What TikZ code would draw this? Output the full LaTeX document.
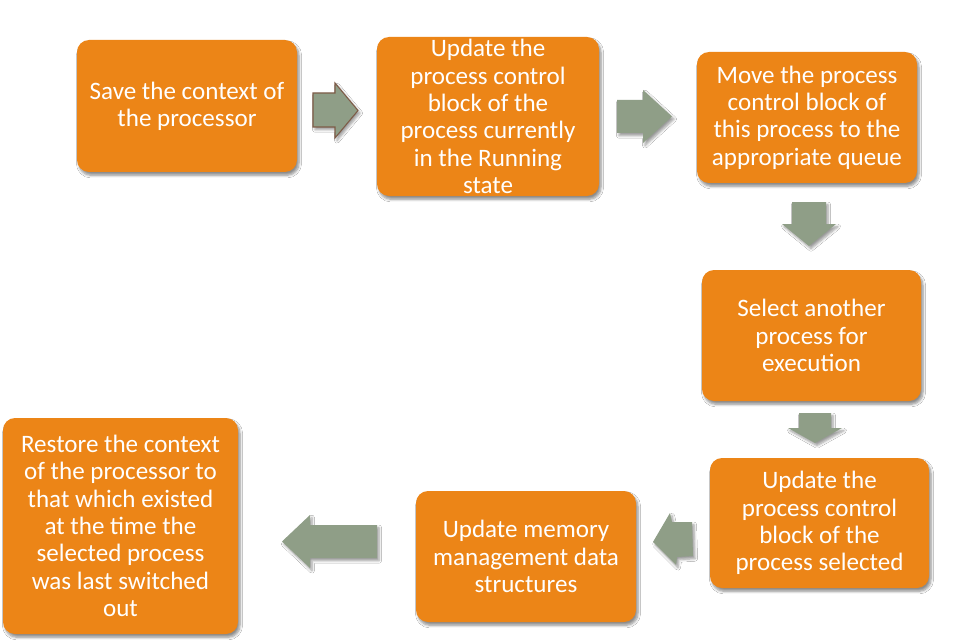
\documentclass[tikz,border=0pt]{standalone}
\usepackage{fontspec}
\setmainfont{Carlito}
\usetikzlibrary{shadows.blur}
\definecolor{boxorange}{HTML}{EC8517}
\definecolor{arrowgreen}{HTML}{8F9E87}
\definecolor{arrowedge}{HTML}{7E5C48}
\tikzset{
  stepbox/.style={fill=boxorange, draw=none, rounded corners=9pt, inner sep=0pt,
    align=center, text=white, font=\fontsize{18.8}{20.5}\selectfont,
    blur shadow={shadow xshift=1.5pt, shadow yshift=-2.5pt, shadow blur steps=6, shadow opacity=45}},
  blockarrow/.style={fill=arrowgreen, draw=none,
    blur shadow={shadow xshift=1.5pt, shadow yshift=-2pt, shadow blur steps=5, shadow opacity=40}},
}
\begin{document}
\begin{tikzpicture}[x=0.75pt, y=-0.75pt]
\useasboundingbox (0,0) rectangle (958,642);
\fill[white] (0,0) rectangle (958,642);

\node[stepbox, minimum width=165pt, minimum height=99pt] (save) at (187,106)
  {Save the context of\\the processor};
\node[stepbox, minimum width=166.5pt, minimum height=119.25pt] (updrun) at (488,116.5)
  {Update the\\process control\\block of the\\process currently\\in the Running\\state};
\node[stepbox, minimum width=165pt, minimum height=98.25pt] (move) at (807,117.5)
  {Move the process\\control block of\\this process to the\\appropriate queue};
\node[stepbox, minimum width=164.25pt, minimum height=98.25pt] (select) at (811.5,335.5)
  {Select another\\process for\\execution};
\node[stepbox, minimum width=164.25pt, minimum height=97.5pt] (updsel) at (819.5,523)
  {Update the\\process control\\block of the\\process selected};
\node[stepbox, minimum width=165pt, minimum height=98.25pt] (mem) at (526,556.5)
  {Update memory\\management data\\structures};
\node[stepbox, minimum width=176.25pt, minimum height=162pt] (restore) at (120.5,526)
  {Restore the context\\of the processor to\\that which existed\\at the time the\\selected process\\was last switched\\out};

% block arrows
\filldraw[blockarrow, draw=arrowedge, line width=0.8pt]
  (313,93) -- (335,93) -- (335,83) -- (358,110.5) -- (335,138) -- (335,127) -- (313,127) -- cycle;
\fill[blockarrow]
  (617,100) -- (643,100) -- (643,90) -- (672,116.5) -- (643,143) -- (643,133) -- (617,133) -- cycle;
\fill[blockarrow]
  (792,202) -- (826,202) -- (826,224) -- (836,224) -- (809,246) -- (782,224) -- (792,224) -- cycle;
\fill[blockarrow]
  (799,413) -- (831,413) -- (831,428) -- (842,428) -- (815,443) -- (788,428) -- (799,428) -- cycle;
\fill[blockarrow]
  (692,522) -- (693,556) -- (677,557) -- (676,565) -- (653,542) -- (670,513) -- (672,522) -- cycle;
\fill[blockarrow]
  (377,525) -- (377,558) -- (310,558) -- (310,568) -- (282,541.5) -- (310,515) -- (310,525) -- cycle;
\end{tikzpicture}
\end{document}
